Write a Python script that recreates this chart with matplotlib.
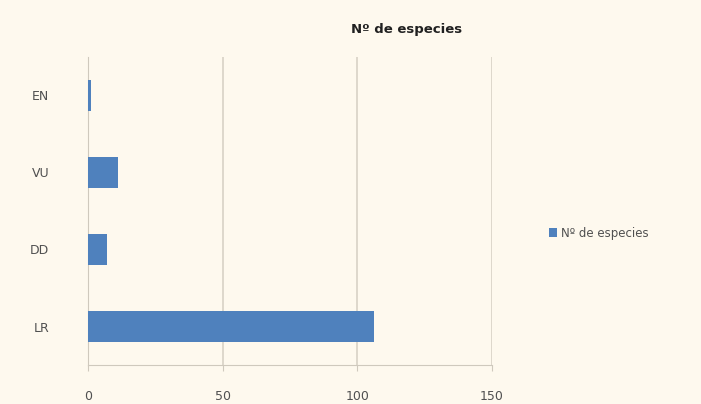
import matplotlib
matplotlib.use("Agg")
import matplotlib.pyplot as plt

categories = ["LR", "DD", "VU", "EN"]
values = [106, 7, 11, 1]
series_name = "Nº de especies"
xticks = [0, 50, 100, 150]

bg = "#FEF9EE"
fig = plt.figure(figsize=(7.01, 4.04), dpi=100, facecolor=bg)
ax = fig.add_axes([0.1255, 0.0965, 0.5765, 0.7625], facecolor=bg)

ax.barh(range(len(categories)), values, height=0.4, color="#4F81BD",
        label=series_name, zorder=3)
ax.set_yticks(range(len(categories)))
ax.set_yticklabels(categories, fontsize=9, color="#505050")
ax.set_xticks(xticks)
ax.set_xticklabels([str(t) for t in xticks], fontsize=9, color="#505050")
ax.set_xlim(0, 150)
ax.set_ylim(-0.5, len(categories) - 0.5)
ax.grid(axis="x", color="#D8D2C6", linewidth=1.2, zorder=0)
for s in ["top", "right"]:
    ax.spines[s].set_visible(False)
ax.spines["left"].set_color("#CFC9BD")
ax.spines["bottom"].set_color("#CFC9BD")
ax.tick_params(axis="y", length=0, pad=28)
ax.tick_params(axis="x", length=4, color="#CFC9BD", pad=14)

fig.text(0.58, 0.928, "Nº de especies", ha="center", va="center",
         fontsize=9.5, fontweight="bold", color="#202020")
fig.legend(loc="center left", bbox_to_anchor=(0.768, 0.423), frameon=False,
           fontsize=8.5, handlelength=0.7, handleheight=0.7, handletextpad=0.3,
           labelcolor="#505050")

fig.savefig("out.png", dpi=100, facecolor=bg)
